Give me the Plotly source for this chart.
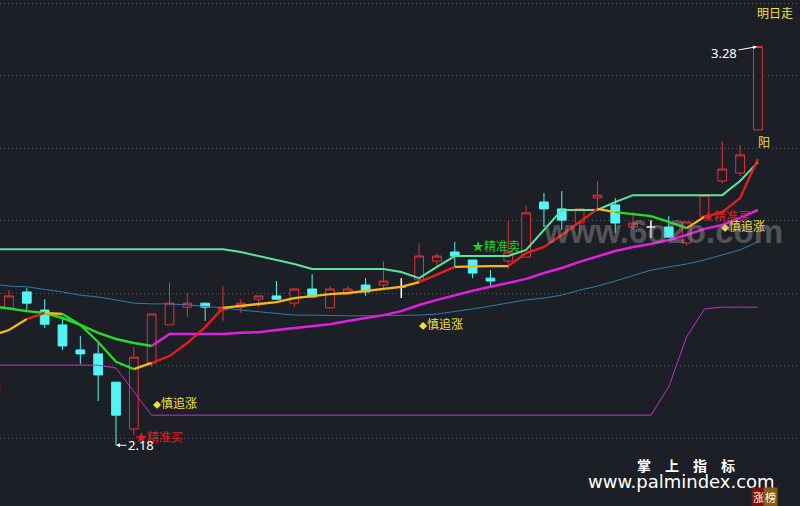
import plotly.graph_objects as go

# ---------------- data ----------------
bar_index = list(range(0, 43))
open_ = [2.559, 2.603, 2.553, 2.512, 2.443, 2.432, 2.354, 2.225, 2.407, 2.512,
         2.561, 2.572, 2.553, 2.561, 2.583, 2.592, 2.572, 2.611, 2.559, 2.597,
         2.622, 2.622, 2.617, 2.636, 2.688, 2.713, 2.691, 2.641, 2.688, 2.699,
         2.851, 2.832, 2.793, 2.862, 2.843, 2.782, 2.782, 2.782, 2.738, 2.810,
         2.909, 2.931, 3.050]
high = [2.608, 2.614, 2.583, 2.534, 2.481, 2.462, 2.354, 2.451, 2.542, 2.630,
        2.600, 2.572, 2.619, 2.583, 2.592, 2.633, 2.611, 2.652, 2.619, 2.619,
        2.641, 2.688, 2.641, 2.738, 2.710, 2.741, 2.691, 2.663, 2.799, 2.840,
        2.876, 2.881, 2.832, 2.909, 2.862, 2.823, 2.801, 2.812, 2.796, 2.870,
        3.019, 3.008, 3.280]
low = [2.556, 2.553, 2.503, 2.443, 2.404, 2.302, 2.180, 2.208, 2.396, 2.512,
       2.534, 2.523, 2.523, 2.545, 2.561, 2.583, 2.561, 2.589, 2.556, 2.597,
       2.592, 2.608, 2.586, 2.628, 2.669, 2.672, 2.641, 2.619, 2.666, 2.699,
       2.782, 2.774, 2.766, 2.832, 2.766, 2.774, 2.752, 2.754, 2.732, 2.810,
       2.903, 2.923, 3.050]
close = [2.592, 2.572, 2.514, 2.454, 2.432, 2.374, 2.263, 2.423, 2.542, 2.572,
         2.572, 2.561, 2.561, 2.572, 2.592, 2.583, 2.611, 2.589, 2.611, 2.611,
         2.603, 2.633, 2.617, 2.702, 2.702, 2.702, 2.655, 2.633, 2.713, 2.821,
         2.832, 2.801, 2.832, 2.870, 2.793, 2.793, 2.782, 2.754, 2.796, 2.870,
         2.942, 2.981, 3.280]

# indicator lines (one extra value for the bar just before the window)
line_index = list(range(-1, 43))
short_line = [2.481, 2.498, 2.528, 2.545, 2.542, 2.512, 2.465, 2.410, 2.390, 2.407,
              2.426, 2.462, 2.506, 2.559, 2.564, 2.570, 2.575, 2.586, 2.592, 2.597,
              2.600, 2.606, 2.611, 2.617, 2.630, 2.652, 2.672, 2.674, 2.674, 2.674,
              2.710, 2.727, 2.760, 2.796, 2.832, 2.823, 2.818, 2.812, 2.796, 2.779,
              2.810, 2.823, 2.862, 2.970]
short_trend = ["Y", "Y", "Y", "R", "Y", "G", "G", "G", "G", "Y",
               "R", "R", "R", "R", "Y", "Y", "Y", "Y", "Y", "Y",
               "Y", "Y", "Y", "Y", "Y", "R", "R", "Y", "Y", "Y",
               "R", "R", "R", "R", "R", "Y", "G", "G", "G", "G",
               "Y", "R", "R", "R"]
mid_line = [2.564, 2.556, 2.550, 2.545, 2.531, 2.512, 2.490, 2.473, 2.462, 2.454,
            2.487, 2.487, 2.487, 2.487, 2.490, 2.492, 2.498, 2.503, 2.509, 2.514,
            2.523, 2.531, 2.539, 2.550, 2.567, 2.581, 2.594, 2.606, 2.617, 2.628,
            2.639, 2.655, 2.669, 2.686, 2.702, 2.716, 2.727, 2.735, 2.746, 2.760,
            2.777, 2.788, 2.807, 2.829]
upper_line = [2.721] * 14 + [2.713, 2.702, 2.691, 2.680, 2.666, 2.666, 2.666, 2.666, 2.666,
              2.658, 2.641, 2.672, 2.702, 2.702, 2.702, 2.702, 2.719, 2.774, 2.829,
              2.829, 2.829, 2.851, 2.870, 2.870, 2.870, 2.870, 2.870, 2.870, 2.909, 2.961]
long_line = [2.625, 2.619, 2.617, 2.611, 2.603, 2.594, 2.589, 2.581, 2.572, 2.570,
             2.570, 2.567, 2.564, 2.559, 2.553, 2.548, 2.542, 2.539, 2.539, 2.537,
             2.537, 2.537, 2.537, 2.537, 2.539, 2.542, 2.548, 2.556, 2.564, 2.572,
             2.581, 2.586, 2.594, 2.608, 2.619, 2.633, 2.647, 2.663, 2.672, 2.680,
             2.691, 2.705, 2.719, 2.741]
support_line = [2.401] * 7 + [2.393, 2.327] + [2.263] * 29 + [2.341, 2.479, 2.556, 2.561, 2.561, 2.561]

grid_levels = [2.2, 2.4, 2.6, 2.8, 3.0, 3.2, 3.4]

# ---------------- styles ----------------
BG = "#1c1f26"
RED = "#e03434"
CYAN = "#54f4f4"
TREND_COLORS = {"R": "#e81e1e", "Y": "#f2b81e", "G": "#26dc26"}
MID_UP, MID_DOWN = "#e020e0", "#26dc26"
CJK = "Noto Sans CJK SC"

fig = go.Figure()

sel = [i for i, (o, c) in enumerate(zip(open_, close)) if o != c]
dj = [i for i, (o, c) in enumerate(zip(open_, close)) if o == c]
fig.add_trace(go.Candlestick(
    x=[bar_index[i] for i in sel], open=[open_[i] for i in sel], high=[high[i] for i in sel],
    low=[low[i] for i in sel], close=[close[i] for i in sel],
    increasing=dict(line=dict(color=RED, width=1), fillcolor=BG),
    decreasing=dict(line=dict(color=CYAN, width=1), fillcolor=CYAN),
    whiskerwidth=0, hoverinfo="skip"))
fig.add_trace(go.Candlestick(
    x=[bar_index[i] for i in dj], open=[open_[i] for i in dj], high=[high[i] for i in dj],
    low=[low[i] for i in dj], close=[close[i] for i in dj],
    increasing=dict(line=dict(color="#ffffff", width=1.5), fillcolor="#ffffff"),
    decreasing=dict(line=dict(color="#ffffff", width=1.5), fillcolor="#ffffff"),
    whiskerwidth=0, hoverinfo="skip"))


def add_plain(ys, color, width):
    fig.add_trace(go.Scatter(x=line_index, y=ys, mode="lines",
                             line=dict(color=color, width=width), hoverinfo="skip"))


def add_runs(ys, colors, width):
    runs = []
    for i in range(1, len(ys)):
        c = colors[i]
        if runs and runs[-1][0] == c:
            runs[-1][1].append(line_index[i]); runs[-1][2].append(ys[i])
        else:
            runs.append([c, [line_index[i - 1], line_index[i]], [ys[i - 1], ys[i]]])
    for c, xs, yv in runs:
        fig.add_trace(go.Scatter(x=xs, y=yv, mode="lines",
                                 line=dict(color=c, width=width), hoverinfo="skip"))


add_plain(support_line, "#c030c8", 1)
add_plain(long_line, "#2a7cb4", 1)
add_plain(upper_line, "#5be59e", 2)
mid_colors = [MID_DOWN] + [MID_DOWN if mid_line[i] < mid_line[i - 1] else MID_UP
                           for i in range(1, len(mid_line))]
add_runs(mid_line, mid_colors, 2.5)
add_runs(short_line, [TREND_COLORS[t] for t in short_trend], 2.3)

# ---------------- annotations ----------------
ann = []
DIA = "<span style='font-size:8px'>◆</span>"


def txt(x, y, text, color, size=12, xanchor="left", xshift=0, yshift=0, xref="x", yref="y",
        family=CJK, yanchor="middle", bgcolor=None):
    d = dict(x=x, y=y, xref=xref, yref=yref, text=text, showarrow=False,
             font=dict(color=color, size=size, family=family),
             xanchor=xanchor, yanchor=yanchor, xshift=xshift, yshift=yshift)
    if bgcolor:
        d["bgcolor"] = bgcolor
    ann.append(d)


txt(1, 1, "明日走", "#f0e040", 12, xanchor="right", xshift=-5, yshift=-2,
    xref="paper", yref="paper", yanchor="top")
txt(42, open_[42], "阳", "#f0e040", 12, xanchor="center", xshift=6, yshift=-1, yanchor="top")
txt(26, 2.730, "★精准卖", "#22d022", 12, xshift=-3)
txt(23, 2.517, DIA + "慎追涨", "#f0e040", 12, xshift=-2)
txt(8, 2.299, DIA + "慎追涨", "#f0e040", 12, xshift=-1)
txt(7, 2.203, "★精准买", "#e02020", 12, xshift=-1)
txt(39, 2.815, "★精准买", "#e02020", 12, xshift=-4)
txt(40, 2.785, DIA + "慎追涨", "#f0e040", 12, xshift=-3)
txt(-0.34, 2.347, "★精准买", "#e02020", 12, xanchor="right")

# price markers with arrows
ann.append(dict(x=42, y=high[42], xref="x", yref="y", text="3.28", showarrow=True,
                ax=-34, ay=6, arrowcolor="#ffffff", arrowwidth=1, arrowhead=2, arrowsize=0.8,
                standoff=1, font=dict(color="#ffffff", size=13, family="Noto Sans")))
ann.append(dict(x=6, y=low[6], xref="x", yref="y", text="2.18", showarrow=True,
                ax=25, ay=0, arrowcolor="#ffffff", arrowwidth=1, arrowhead=2, arrowsize=0.8,
                standoff=0, font=dict(color="#ffffff", size=13, family="Noto Sans")))

# watermarks
txt(663 / 800, 1 - 231 / 506, "<b>www.6o2o.com</b>", "rgba(160,160,160,0.42)", 33, xanchor="center",
    xref="paper", yref="paper", family="Liberation Sans, Arial")
txt(686 / 800, 1 - 465 / 506, "<b>掌　上　指　标</b>", "#ffffff", 14, xanchor="center",
    xref="paper", yref="paper")
txt(681 / 800, 1 - 481 / 506, "www.palmindex.com", "#ffffff", 18, xanchor="center",
    xref="paper", yref="paper", family="DejaVu Sans")
txt(758 / 800, 1 - 497 / 506, "涨", "#ffffff", 11, xanchor="center",
    xref="paper", yref="paper", bgcolor="#7d1010")
txt(770 / 800, 1 - 497 / 506, "榜", "#ffffff", 11, xanchor="center",
    xref="paper", yref="paper", bgcolor="#8a5a14")

fig.update_layout(
    width=800, height=506,
    margin=dict(l=0, r=0, t=0, b=0),
    paper_bgcolor=BG, plot_bgcolor=BG,
    showlegend=False,
    annotations=ann,
    xaxis=dict(range=[-0.505, 44.36], showgrid=False, zeroline=False, showticklabels=False,
               showline=False, rangeslider=dict(visible=False), fixedrange=True),
    yaxis=dict(range=[2.01241, 3.40828], tickvals=grid_levels, showticklabels=False,
               showgrid=True, gridcolor="#52565e", gridwidth=1, griddash="1px,3px",
               zeroline=False, showline=False, fixedrange=True),
)

fig.write_html("out.html", config={"displayModeBar": False},
               post_script="document.body.style.margin='0';document.body.style.background='#1c1f26';")
